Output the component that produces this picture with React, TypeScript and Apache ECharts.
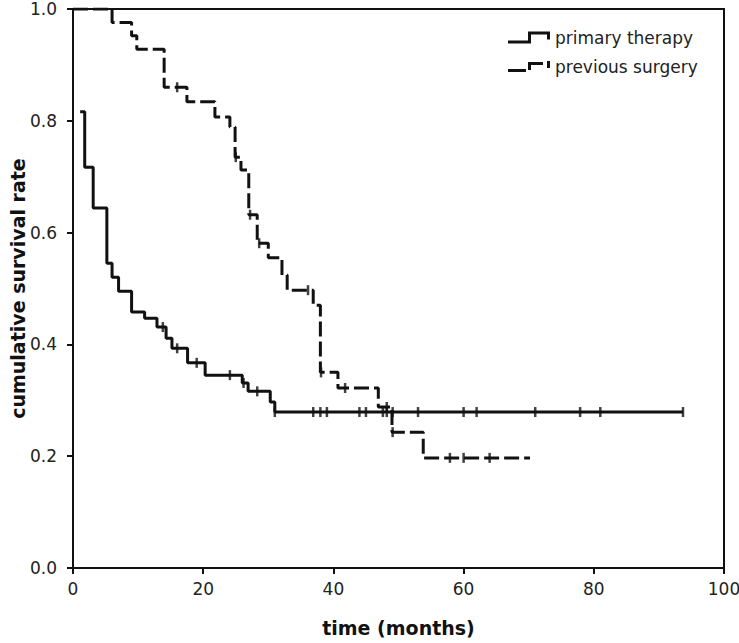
import React, { useEffect, useRef } from "react";
import * as echarts from "echarts";

// primary therapy: Kaplan–Meier steps (time in months, cumulative survival)
const primaryTimes = [1.1, 1.8, 3.1, 5.2, 6.0, 7.0, 9.0, 11.0, 12.9, 14.3, 15.2, 17.6, 20.3, 26.0, 26.9, 30.3, 31.0, 93.7];
const primaryRates = [0.816, 0.717, 0.644, 0.545, 0.52, 0.495, 0.458, 0.447, 0.431, 0.411, 0.393, 0.367, 0.345, 0.331, 0.316, 0.297, 0.279, 0.279];
const primaryCensored = [13.8, 16.0, 19.0, 24.1, 26.2, 28.3, 31.0, 36.9, 38.0, 39.0, 44.0, 45.0, 47.6, 48.2, 49.1, 53.0, 60.0, 62.0, 71.0, 77.9, 81.0, 93.7];

// previous surgery
const surgeryTimes = [0, 6.0, 9.0, 9.8, 14.0, 17.5, 21.8, 24.1, 24.9, 25.8, 27.0, 28.3, 30.0, 32.1, 32.9, 36.9, 38.0, 40.7, 46.9, 49.0, 53.8, 70.2];
const surgeryRates = [1.0, 0.976, 0.952, 0.928, 0.86, 0.834, 0.807, 0.789, 0.735, 0.712, 0.632, 0.581, 0.555, 0.524, 0.497, 0.47, 0.35, 0.322, 0.288, 0.243, 0.197, 0.197];
const surgeryCensored = [16.0, 25.0, 27.2, 28.6, 36.1, 38.1, 41.8, 48.2, 49.1, 57.9, 60.0, 64.0];

const seriesNames = ["primary therapy", "previous surgery"];
const xTicks = { min: 0, max: 100, interval: 20 };
const yTicks = { min: 0, max: 1, interval: 0.2 };

function stepAt(times: number[], rates: number[], t: number): number {
  let v = rates[0];
  for (let i = 0; i < times.length; i++) {
    if (times[i] <= t + 1e-9) v = rates[i];
  }
  return v;
}

const FONT = "DejaVu Sans";

export default function App() {
  const ref = useRef<HTMLDivElement>(null);
  useEffect(() => {
    document.body.style.margin = "0";
    const chart = echarts.init(ref.current!, undefined, { renderer: "svg" });
    const primaryLine = primaryTimes.map((t, i) => [t, primaryRates[i]]);
    const surgeryLine = surgeryTimes.map((t, i) => [t, surgeryRates[i]]);
    const primaryMarks = primaryCensored.map((t) => [t, stepAt(primaryTimes, primaryRates, t)]);
    const surgeryMarks = surgeryCensored.map((t) => [t, stepAt(surgeryTimes, surgeryRates, t)]);
    const solidIcon = "path://M0,10 L20,10 L20,1 L42,1 L42,9 L39,9 L39,4 L23,4 L23,13 L0,13 Z";
    const dashIcon = "path://M0,10 L18,10 L18,13 L0,13 Z M20,3 L35,3 L35,6 L23,6 L23,11 L20,11 Z M39,2 L42,2 L42,9 L39,9 Z";
    chart.setOption({
      animation: false,
      backgroundColor: "#ffffff",
      grid: {
        left: 73,
        right: 15,
        top: 9,
        bottom: 75,
        containLabel: false,
        outerBoundsMode: "none",
        show: true,
        borderColor: "#111",
        borderWidth: 2,
      },
      legend: {
        orient: "vertical",
        left: 503,
        top: 24,
        itemWidth: 42,
        itemHeight: 14,
        itemGap: 12,
        textStyle: { fontFamily: FONT, fontSize: 17, color: "#222" },
        data: [
          { name: seriesNames[0], icon: solidIcon },
          { name: seriesNames[1], icon: dashIcon },
        ],
      },
      xAxis: {
        type: "value",
        min: xTicks.min,
        max: xTicks.max,
        interval: xTicks.interval,
        name: "time (months)",
        nameLocation: "middle",
        nameGap: 50,
        nameTextStyle: { fontFamily: FONT, fontSize: 19, fontWeight: "bold", color: "#111" },
        axisLine: { lineStyle: { color: "#111", width: 2 } },
        axisTick: { show: true, length: 6, lineStyle: { color: "#111", width: 2 } },
        axisLabel: { fontFamily: FONT, fontSize: 17, color: "#222", margin: 12 },
        splitLine: { show: false },
      },
      yAxis: {
        type: "value",
        min: yTicks.min,
        max: yTicks.max,
        interval: yTicks.interval,
        name: "cumulative survival rate",
        nameLocation: "middle",
        nameGap: 46,
        nameMoveOverlap: false,
        nameTextStyle: { fontFamily: FONT, fontSize: 19, fontWeight: "bold", color: "#111" },
        axisLine: { lineStyle: { color: "#111", width: 2 } },
        axisTick: { show: true, length: 6, lineStyle: { color: "#111", width: 2 } },
        axisLabel: {
          fontFamily: FONT,
          fontSize: 17,
          color: "#222",
          margin: 16,
          formatter: (v: number) => v.toFixed(1),
        },
        splitLine: { show: false },
      },
      series: [
        {
          name: seriesNames[0],
          type: "line",
          step: "end",
          data: primaryLine,
          showSymbol: false,
          itemStyle: { color: "#111" },
          lineStyle: { color: "#111", width: 3 },
          z: 3,
        },
        {
          name: seriesNames[1],
          type: "line",
          step: "end",
          data: surgeryLine,
          showSymbol: false,
          itemStyle: { color: "#111" },
          lineStyle: { color: "#111", width: 3, type: [15, 5] },
          z: 3,
        },
        {
          type: "scatter",
          data: primaryMarks,
          symbol: "rect",
          symbolSize: [2.5, 10],
          itemStyle: { color: "#111" },
          z: 4,
        },
        {
          type: "scatter",
          data: surgeryMarks,
          symbol: "rect",
          symbolSize: [2.5, 10],
          itemStyle: { color: "#111" },
          z: 4,
        },
      ],
    });
    return () => chart.dispose();
  }, []);
  return (
    <div
      ref={ref}
      style={{ position: "absolute", left: 0, top: 0, width: 739, height: 643 }}
    />
  );
}
